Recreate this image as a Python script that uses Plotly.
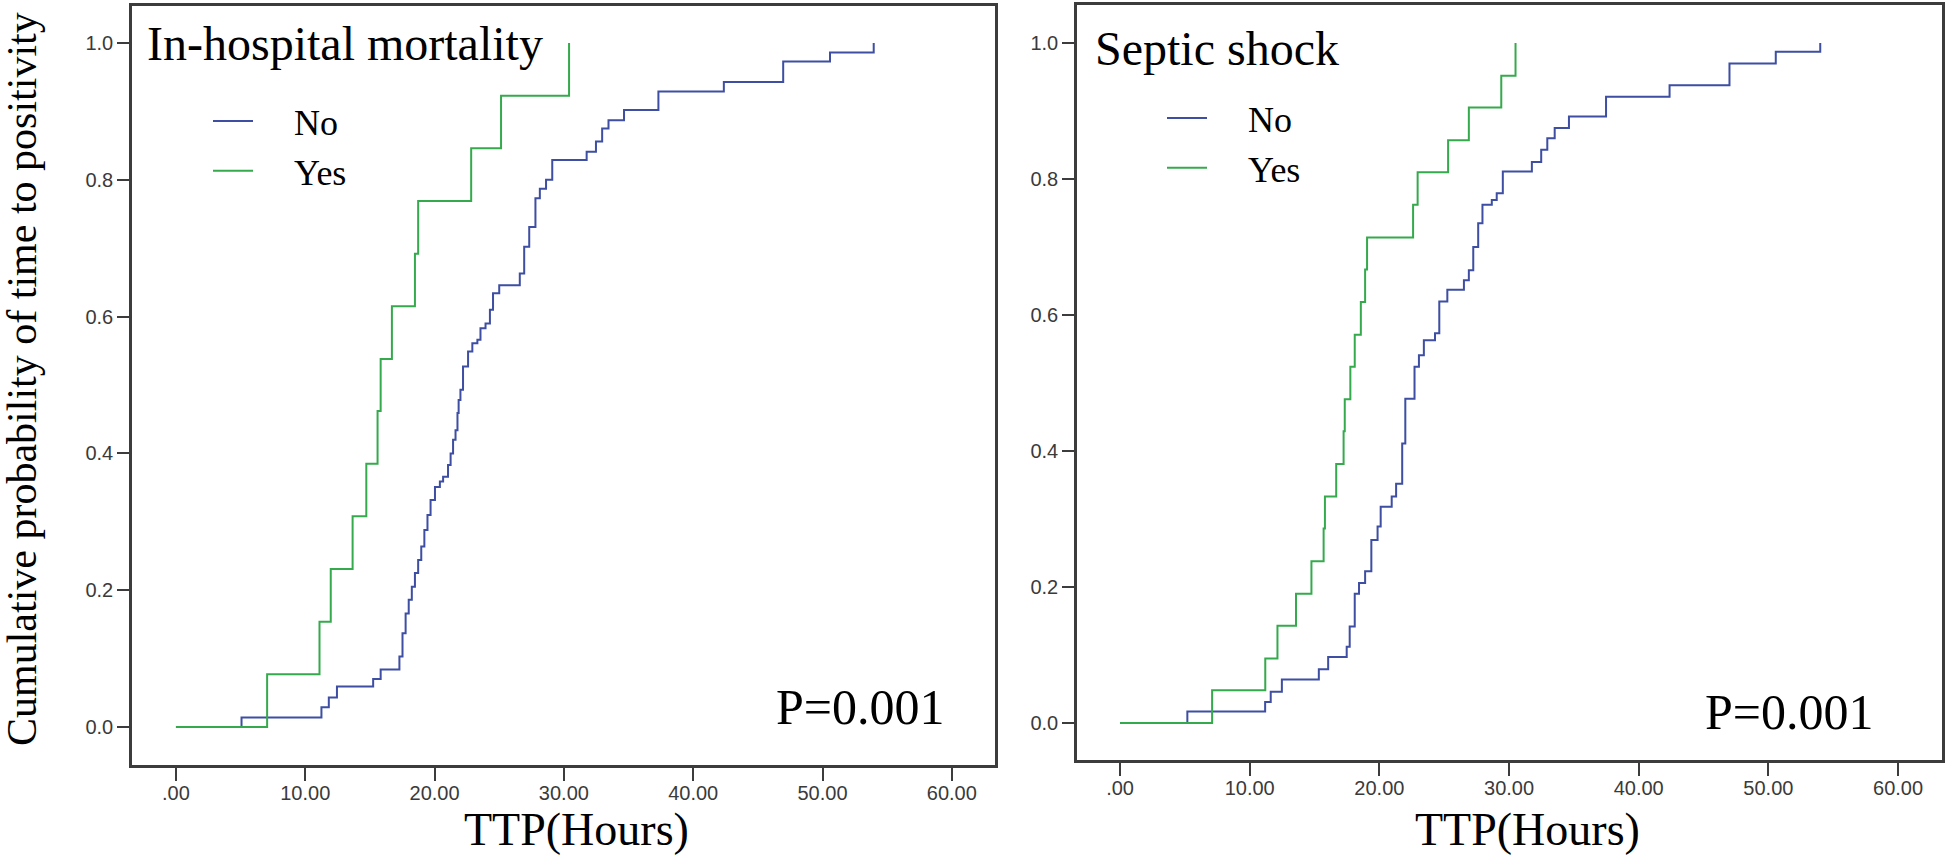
import plotly.graph_objects as go

# ---------------- data ----------------
# Panel 1: In-hospital mortality
mort_no_x = [0, 5.07, 11.25, 11.82, 12.45, 15.25, 15.83, 17.28, 17.52, 17.76, 18.0, 18.24, 18.48,
             18.73, 18.97, 19.21, 19.45, 19.69, 20.03, 20.41, 20.66, 21.04, 21.24, 21.43, 21.62,
             21.77, 21.86, 22.0, 22.2, 22.59, 22.92, 23.31, 23.55, 23.94, 24.28, 24.52, 25.0,
             26.59, 26.93, 27.32, 27.8, 28.14, 28.62, 29.1, 31.76, 32.48, 32.96, 33.45, 34.65,
             37.31, 42.37, 46.96, 50.58, 53.96]
mort_no_y = [0, 0.014, 0.029, 0.043, 0.059, 0.070, 0.084, 0.103, 0.137, 0.166, 0.186, 0.205, 0.225,
             0.244, 0.264, 0.288, 0.310, 0.332, 0.351, 0.359, 0.366, 0.383, 0.400, 0.420, 0.434,
             0.459, 0.478, 0.493, 0.527, 0.549, 0.561, 0.566, 0.583, 0.590, 0.610, 0.634, 0.646,
             0.663, 0.702, 0.731, 0.773, 0.787, 0.800, 0.829, 0.841, 0.856, 0.875, 0.887, 0.902,
             0.929, 0.943, 0.973, 0.986, 1.0]
mort_yes_x = [0, 7.05, 11.1, 11.97, 13.66, 14.72, 15.59, 15.83, 16.7, 18.48, 18.73, 22.83, 25.14, 30.4]
mort_yes_y = [0, 0.077, 0.154, 0.231, 0.308, 0.385, 0.462, 0.538, 0.615, 0.692, 0.769, 0.846, 0.923, 1.0]

# Panel 2: Septic shock
shock_no_x = [0, 5.19, 11.19, 11.62, 12.48, 15.33, 16.05, 17.48, 17.71, 18.1, 18.43, 18.9, 19.38,
              19.86, 20.1, 20.95, 21.29, 21.76, 22.0, 22.71, 23.05, 23.43, 24.29, 24.62, 25.24,
              26.52, 26.9, 27.24, 27.62, 27.95, 28.67, 29.05, 29.52, 31.76, 32.48, 32.95, 33.52,
              34.62, 37.48, 42.38, 47.0, 50.57, 54.0]
shock_no_y = [0, 0.017, 0.031, 0.046, 0.064, 0.079, 0.097, 0.112, 0.142, 0.190, 0.206, 0.223, 0.269,
              0.289, 0.318, 0.333, 0.352, 0.411, 0.477, 0.524, 0.541, 0.563, 0.573, 0.620, 0.637,
              0.651, 0.666, 0.700, 0.735, 0.762, 0.769, 0.779, 0.811, 0.825, 0.843, 0.860, 0.875,
              0.892, 0.921, 0.938, 0.970, 0.987, 1.0]
shock_yes_x = [0, 7.1, 11.2, 12.14, 13.57, 14.76, 15.7, 15.8, 16.67, 17.24, 17.33, 17.76, 18.1,
               18.57, 18.9, 19.05, 22.6, 22.95, 25.3, 26.9, 29.4, 30.5]
shock_yes_y = [0, 0.048, 0.095, 0.143, 0.190, 0.238, 0.286, 0.333, 0.381, 0.429, 0.476, 0.524, 0.571,
               0.619, 0.667, 0.714, 0.762, 0.810, 0.857, 0.905, 0.952, 1.0]

group_names = ["No", "Yes"]
panel_titles = ["In-hospital mortality", "Septic shock"]
p_values = ["P=0.001", "P=0.001"]
x_tick_vals = [0, 10, 20, 30, 40, 50, 60]
x_tick_text = [".00", "10.00", "20.00", "30.00", "40.00", "50.00", "60.00"]
y_tick_vals = [0.0, 0.2, 0.4, 0.6, 0.8, 1.0]
y_tick_text = ["0.0", "0.2", "0.4", "0.6", "0.8", "1.0"]
y_title = "Cumulative probability of time to positivity"
x_title = "TTP(Hours)"

# ---------------- styling ----------------
BLUE = "#3D4EA3"
GREEN = "#35AA4C"
SERIF = "Liberation Serif, Times New Roman, serif"
SANS = "Liberation Sans, Arial, sans-serif"
W, H = 1946, 856
PAD = "\u00a0" * 4  # gap between legend key and label

fig = go.Figure()

def add_series(xs, ys, name, color, xa, ya, legend):
    fig.add_trace(go.Scatter(x=xs, y=ys, mode="lines", line=dict(color=color, width=2, shape="hv"),
                             name=PAD + name, xaxis=xa, yaxis=ya, legend=legend, showlegend=True,
                             hoverinfo="x+y"))

add_series(mort_no_x, mort_no_y, group_names[0], BLUE, "x", "y", "legend")
add_series(mort_yes_x, mort_yes_y, group_names[1], GREEN, "x", "y", "legend")
add_series(shock_no_x, shock_no_y, group_names[0], BLUE, "x2", "y2", "legend2")
add_series(shock_yes_x, shock_yes_y, group_names[1], GREEN, "x2", "y2", "legend2")

def px_x(p):
    return p / W

def px_y(p):
    return 1 - p / H

axis_common = dict(showline=True, mirror=True, linecolor="#3c3c3c", linewidth=2.5,
                   showgrid=False, zeroline=False, ticks="outside", tickwidth=2,
                   tickcolor="#3c3c3c", tickfont=dict(family=SANS, size=20, color="#3a3a3a"))

xaxis_common = dict(axis_common, tickvals=x_tick_vals, ticktext=x_tick_text, ticklen=13,
                    ticklabelstandoff=-5)
yaxis_common = dict(axis_common, tickvals=y_tick_vals, ticktext=y_tick_text, ticklen=12)

legend_common = dict(xanchor="left", yanchor="top", font=dict(family=SERIF, size=36, color="black"),
                     itemwidth=40, bgcolor="rgba(0,0,0,0)", tracegroupgap=0)

fig.update_layout(
    width=W, height=H,
    margin=dict(l=0, r=0, t=0, b=0),
    paper_bgcolor="white", plot_bgcolor="white",
    xaxis=dict(xaxis_common, domain=[px_x(132), px_x(995)], range=[-3.40, 63.34], anchor="y"),
    yaxis=dict(yaxis_common, domain=[px_y(765), px_y(6)], range=[-0.0556, 1.0541], anchor="x"),
    xaxis2=dict(xaxis_common, domain=[px_x(1077), px_x(1942)], range=[-3.32, 63.39], anchor="y2"),
    yaxis2=dict(yaxis_common, domain=[px_y(760), px_y(5)], range=[-0.0544, 1.0559], anchor="x2"),
    legend=dict(legend_common, x=px_x(208), y=px_y(91)),
    legend2=dict(legend_common, x=px_x(1162), y=px_y(88)),
    showlegend=True,
)

annotations = [
    dict(text=panel_titles[0], xref="paper", yref="paper", x=px_x(145), y=px_y(44),
         xanchor="left", yanchor="middle", showarrow=False,
         font=dict(family=SERIF, size=48, color="black")),
    dict(text=panel_titles[1], xref="paper", yref="paper", x=px_x(1093), y=px_y(48),
         xanchor="left", yanchor="middle", showarrow=False,
         font=dict(family=SERIF, size=48, color="black")),
    dict(text=x_title, xref="paper", yref="paper", x=px_x(576), y=px_y(829),
         xanchor="center", yanchor="middle", showarrow=False,
         font=dict(family=SERIF, size=46, color="black")),
    dict(text=x_title, xref="paper", yref="paper", x=px_x(1527), y=px_y(829),
         xanchor="center", yanchor="middle", showarrow=False,
         font=dict(family=SERIF, size=46, color="black")),
    dict(text=y_title, xref="paper", yref="paper", x=px_x(22), y=px_y(379), textangle=-90,
         xanchor="center", yanchor="middle", showarrow=False,
         font=dict(family=SERIF, size=42, color="black")),
    dict(text=p_values[0], xref="x", yref="y", x=59.6, y=0.029,
         xanchor="right", yanchor="middle", showarrow=False,
         font=dict(family=SERIF, size=50, color="black")),
    dict(text=p_values[1], xref="x2", yref="y2", x=58.3, y=0.016,
         xanchor="right", yanchor="middle", showarrow=False,
         font=dict(family=SERIF, size=50, color="black")),
]
fig.update_layout(annotations=annotations)

fig.write_html("out.html", config={"displayModeBar": False},
               post_script="document.body.style.margin='0';")
